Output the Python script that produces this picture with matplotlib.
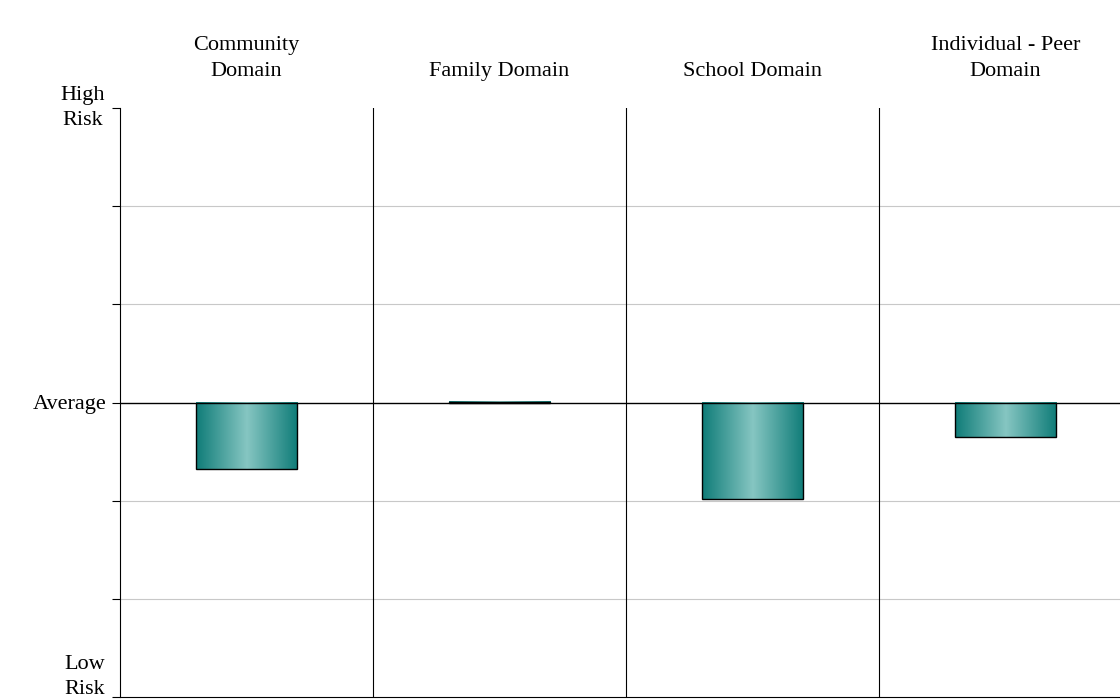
import numpy as np
import matplotlib.pyplot as plt
import matplotlib.transforms as mtransforms
from matplotlib.colors import LinearSegmentedColormap

plt.rcParams['font.family'] = ['Liberation Serif', 'DejaVu Serif']

domains = ['Community\nDomain', 'Family Domain', 'School Domain', 'Individual - Peer\nDomain']
scores = [-0.68, 0.01, -0.98, -0.35]

fig = plt.figure(figsize=(11.2, 7.0), dpi=100)
ax = fig.add_axes([120/1120, 3/700, 1012/1120, 589/700])

# gradient fill for bars
cmap = LinearSegmentedColormap.from_list('teal', ['#0f7c78', '#86c6c2', '#0f7c78'])
grad = np.linspace(0, 1, 256).reshape(1, -1)
w = 0.4
for i, v in enumerate(scores):
    x0 = i + 0.5 - w / 2
    lo, hi = min(0, v), max(0, v)
    ax.imshow(grad, cmap=cmap, aspect='auto', extent=[x0, x0 + w, lo, hi],
              zorder=3, interpolation='bicubic')
    ax.add_patch(plt.Rectangle((x0, lo), w, hi - lo, fill=False,
                               edgecolor='black', lw=1, zorder=4))
ax.set_xlim(0, 4)
ax.set_ylim(-3, 3)

for y in [-2, -1, 1, 2]:
    ax.axhline(y, color='#c8c8c8', lw=0.8, zorder=1)
ax.axhline(0, color='black', lw=1, zorder=2)
for x in [1, 2, 3]:
    ax.axvline(x, color='black', lw=0.8, zorder=2)

for s in ['top', 'right']:
    ax.spines[s].set_visible(False)
ax.spines['left'].set_linewidth(0.8)
ax.spines['bottom'].set_linewidth(0.8)

ax.set_xticks([])
ax.set_yticks(range(-3, 4))
ax.set_yticklabels(['Low\nRisk', '', '', 'Average', '', '', 'High\nRisk'], fontsize=16)
ax.tick_params(axis='y', length=6, width=0.8)
labs = ax.get_yticklabels()
for lab in (labs[0], labs[-1]):
    lab.set_multialignment('center')
    lab.set_linespacing(1.4)
labs[0].set_va('bottom')
labs[-1].set_va('center')
labs[0].set_transform(labs[0].get_transform() + mtransforms.ScaledTranslation(-0.02, -0.02, fig.dpi_scale_trans))
labs[-1].set_transform(labs[-1].get_transform() + mtransforms.ScaledTranslation(-0.02, 0.0, fig.dpi_scale_trans))

for i, d in enumerate(domains):
    ax.text(i + 0.5, 3.28, d, ha='center', va='bottom', fontsize=16,
            linespacing=1.45, clip_on=False)

fig.savefig('out.png', dpi=100)
